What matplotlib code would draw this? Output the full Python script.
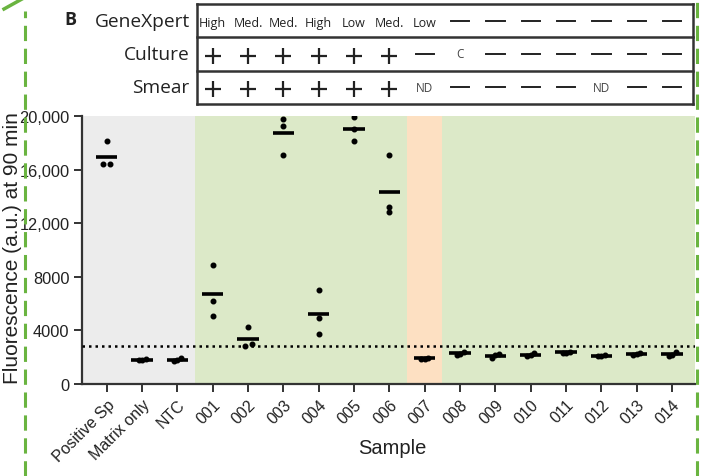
import matplotlib
matplotlib.use("Agg")
import matplotlib.pyplot as plt
from matplotlib.lines import Line2D
import numpy as np

categories = ["Positive Sp", "Matrix only", "NTC", "001", "002", "003", "004", "005",
              "006", "007", "008", "009", "010", "011", "012", "013", "014"]
replicates = [
    [18100, 16400, 16400],
    [1850, 1800, 1800],
    [1950, 1800, 1700],
    [8900, 6190, 5070],
    [4280, 2850, 2950],
    [19780, 19280, 17090],
    [7040, 4950, 3730],
    [19900, 19030, 18160],
    [17090, 13190, 12810],
    [1950, 1900, 1900],
    [2420, 2250, 2200],
    [2250, 2150, 1950],
    [2300, 2200, 2100],
    [2400, 2350, 2330],
    [2150, 2100, 2080],
    [2280, 2240, 2200],
    [2420, 2200, 2100],
]
threshold = 2850
yticks = [0, 4000, 8000, 12000, 16000, 20000]
ytick_labels = ["0", "4000", "8000", "12,000", "16,000", "20,000"]

genexpert = ["High", "Med.", "Med.", "High", "Low", "Med.", "Low", "—", "—", "—", "—", "—", "—", "—"]
culture = ["+"] * 6 + ["—", "C"] + ["—"] * 6
smear = ["+"] * 6 + ["ND", "—", "—", "—", "—", "ND", "—", "—"]
row_names = ["GeneXpert", "Culture", "Smear"]

W, H = 717, 477
fig = plt.figure(figsize=(W / 100, H / 100), dpi=100)
fig.patch.set_facecolor("white")

x0, x1 = -0.7, 16.65
ax = fig.add_axes([82 / W, 1 - 385 / H, (695 - 82) / W, (385 - 117) / H])
ax.set_xlim(x0, x1)
ax.set_ylim(0, 20000)
ax.set_facecolor("white")

ax.axvspan(x0, 2.5, color="#ececec", lw=0, zorder=0)
ax.axvspan(2.5, 8.5, color="#dce9c8", lw=0, zorder=0)
ax.axvspan(8.5, 9.5, color="#fde0c2", lw=0, zorder=0)
ax.axvspan(9.5, x1, color="#dce9c8", lw=0, zorder=0)

for i, vals in enumerate(replicates):
    vals = np.array(vals, dtype=float)
    xs = np.full(len(vals), float(i))
    order = np.argsort(vals)
    for a, b in zip(order[:-1], order[1:]):
        if abs(vals[a] - vals[b]) < 300:
            xs[a] -= 0.1
            xs[b] += 0.1
    ax.plot(xs, vals, "o", color="black", ms=3.3, zorder=3)
    m = vals.mean()
    ax.plot([i - 0.3, i + 0.3], [m, m], color="black", lw=2.6, zorder=4, solid_capstyle="butt")

ax.axhline(threshold, color="black", lw=1.8, ls=(0, (1, 1.6)), zorder=5)

for s in ["top", "right"]:
    ax.spines[s].set_visible(False)
for s in ["left", "bottom"]:
    ax.spines[s].set_color("#333333")
    ax.spines[s].set_linewidth(1.6)

tickfont = "Liberation Sans"
ax.set_yticks(yticks)
ax.set_yticklabels(ytick_labels, fontsize=11.8, family=tickfont, color="#222222")
ax.set_xticks(range(len(categories)))
ax.set_xticklabels(categories, rotation=45, ha="right", rotation_mode="anchor",
                   fontsize=11.5, family=tickfont, color="#222222")
ax.tick_params(axis="both", direction="out", length=6, width=1.4, color="#333333", pad=3)

fig.text(13 / W, 1 - 248 / H, "Fluorescence (a.u.) at 90 min", rotation=90, ha="center", va="center",
         fontsize=15, family=tickfont, color="#222222")
fig.text(392 / W, 1 - 448 / H, "Sample", ha="center", va="center",
         fontsize=14.5, family=tickfont, color="#222222")

# Table above
tab = fig.add_axes([82 / W, 1 - 105 / H, (695 - 82) / W, 100 / H])
tab.set_xlim(x0, x1)
tab.set_ylim(0, 3)
tab.axis("off")
tx0, tx1 = 2.55, 16.6
for yv in [0, 1, 2, 3]:
    tab.plot([tx0, tx1], [yv, yv], color="#333333", lw=1.8, clip_on=False, solid_capstyle="projecting")
for xv in [tx0, tx1]:
    tab.plot([xv, xv], [0, 3], color="#333333", lw=1.8, clip_on=False)

tfont = "Open Sans"
for r, name in enumerate(row_names):
    yc = 2.5 - r
    tab.text(2.35, yc, name, ha="right", va="center", fontsize=13.8, family=tfont, color="#222222")

def draw_row(vals, yc):
    for j, v in enumerate(vals):
        xc = 3 + j
        if v == "+":
            tab.plot([xc], [yc - 0.05], marker="+", ms=12, mew=1.6, color="#222222")
        elif v == "—":
            tab.plot([xc - 0.26, xc + 0.26], [yc, yc], color="#222222", lw=1.4)
        elif v in ("C", "ND"):
            tab.text(xc, yc, v, ha="center", va="center", fontsize=8.5, family=tfont, color="#444444")
        else:
            tab.text(xc, yc - 0.05, v, ha="center", va="center", fontsize=9, family=tfont, color="#222222")

draw_row(genexpert, 2.5)
draw_row(culture, 1.5)
draw_row(smear, 0.5)

fig.text(70 / W, 1 - 20 / H, "B", fontsize=13, fontweight="bold", family=tfont, color="#222222",
         ha="center", va="center")

green = "#6ab440"
fig.add_artist(Line2D([25 / W, 25 / W], [0, 1 - 12 / H], transform=fig.transFigure,
                      color=green, lw=2.2, ls=(0, (5, 2.5))))
fig.add_artist(Line2D([697 / W, 697 / W], [0, 1], transform=fig.transFigure,
                      color=green, lw=2.2, ls=(0, (5, 2.5))))
fig.add_artist(Line2D([4 / W, 22 / W], [1 - 10 / H, 1], transform=fig.transFigure,
                      color=green, lw=2.5))

fig.savefig("out.png", dpi=100)
